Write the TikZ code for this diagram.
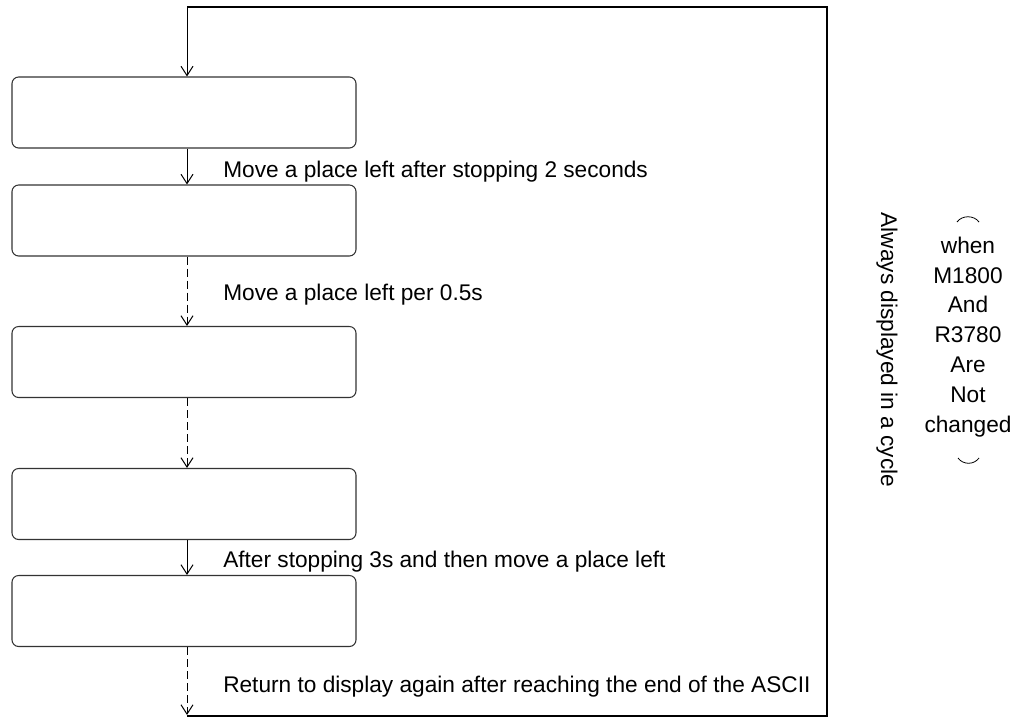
\documentclass[tikz,border=0pt]{standalone}
\usepackage{fontspec}
\setmainfont{Liberation Sans}
\usetikzlibrary{arrows.meta}
\begin{document}
\begin{tikzpicture}[x=0.75pt,y=-0.75pt,
  stepbox/.style={draw=black!80, line width=0.8pt, rounded corners=5pt, minimum width=258pt, minimum height=53.25pt, inner sep=0pt},
  flow/.style={draw=black, line width=0.75pt, -{Straight Barb[length=7pt,width=9pt]}},
  dflow/.style={flow, dash pattern=on 6pt off 3pt},
  loopline/.style={draw=black, line width=1.6pt},
  lbl/.style={anchor=base west, inner sep=0pt, font=\fontsize{17}{20}\selectfont},
  paren/.style={draw=black, line width=0.6pt},
]
\useasboundingbox (0,0) rectangle (1019,719);
\node[stepbox] (b1) at (184,112.5) {};
\node[stepbox] (b2) at (184,220.5) {};
\node[stepbox] (b3) at (184,362) {};
\node[stepbox] (b4) at (184,504) {};
\node[stepbox] (b5) at (184,611) {};

\coordinate (ax) at (187,0);
\coordinate (top) at (187,7);
\coordinate (tr) at (827,7);
\coordinate (br) at (827,716);
\coordinate (bl) at (187,716);
\coordinate (fin) at (187,715);

\draw[flow] (b1.south -| ax) -- (b2.north -| ax);
\draw[dflow] (b2.south -| ax) -- (b3.north -| ax);
\draw[dflow] (b3.south -| ax) -- (b4.north -| ax);
\draw[flow] (b4.south -| ax) -- (b5.north -| ax);
\draw[dflow] (b5.south -| ax) -- (fin);
\draw[loopline] (bl) -- (br) -- (tr) -- (top);
\draw[flow] (top) -- (b1.north -| ax);

\node[lbl] (l1) at (223,177) {Move a place left after stopping 2 seconds};
\node[lbl] (l2) at (223,300) {Move a place left per 0.5s};
\node[lbl] (l3) at (223,567) {After stopping 3s and then move a place left};
\node[lbl] (l4) at (223,692) {Return to display again after reaching the end of the ASCII};

\node[rotate=-90, inner sep=0pt, font=\fontsize{17}{20}\selectfont] (cyc) at (887,350) {Always displayed in a cycle};
\node[align=center, anchor=north, inner sep=0pt, font=\fontsize{17}{22.35}\selectfont] (cond) at (968,236.5) {when\\M1800\\And\\R3780\\Are\\Not\\changed};

\draw[paren] (957,222) .. controls (962,215) and (974,215) .. (979,222);
\draw[paren] (958,458) .. controls (963,465) and (974,465) .. (979,458);
\end{tikzpicture}
\end{document}
